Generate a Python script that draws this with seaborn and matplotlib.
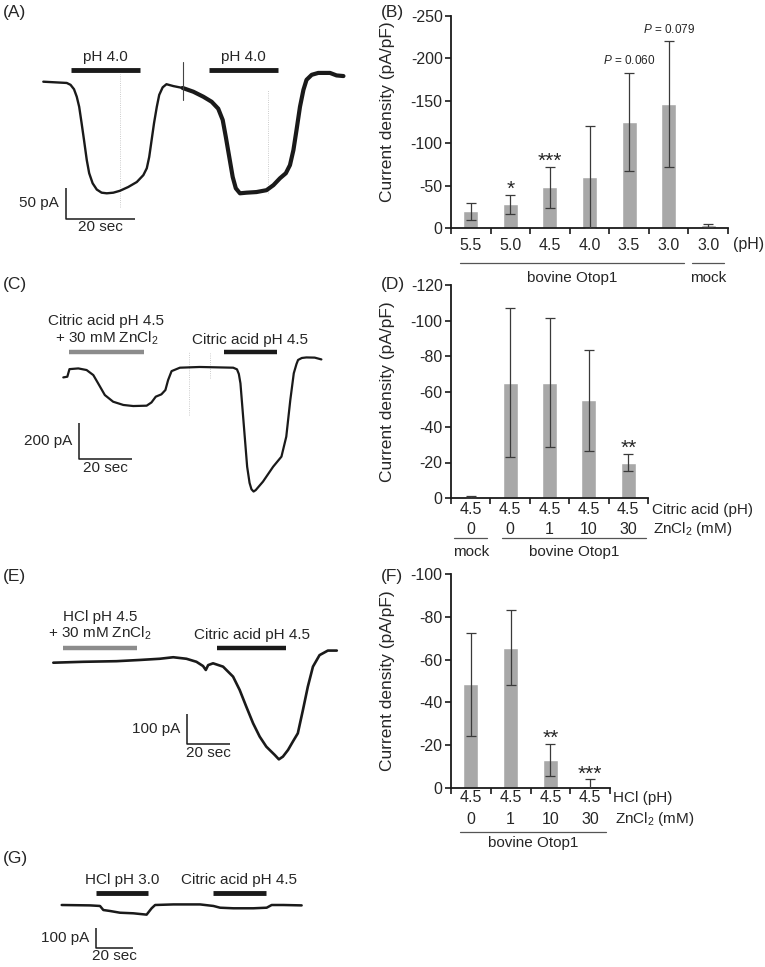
import numpy as np
import pandas as pd
import seaborn as sns
import matplotlib.pyplot as plt
import matplotlib.transforms as mtransforms

sns.set_theme(style='white')
plt.rcParams['font.family'] = ['Liberation Sans', 'DejaVu Sans']
plt.rcParams['mathtext.fontset'] = 'custom'
plt.rcParams['mathtext.rm'] = 'Liberation Sans'
plt.rcParams['mathtext.it'] = 'Liberation Sans:italic'
plt.rcParams['axes.unicode_minus'] = False

# ---------------- data ----------------
# (A) trace, time in sec, current in pA
a_time = [0, 6.8, 7.9, 8.9, 9.7, 10.4, 11.1, 11.8, 12.6, 13.3, 14.3, 15.5, 16.9, 18.4,
          20.3, 22.2, 24.6, 27.1, 29.0, 30.0, 30.7, 31.4, 32.1, 32.9, 33.6, 34.6, 35.7,
          37.7, 40.4,
          43.5, 46.4, 48.8, 50.7, 52.0, 52.9, 53.9, 54.9, 55.8, 57.0, 58.9, 61.8, 64.7,
          66.7, 68.6, 70.3, 71.5, 72.5, 73.4, 74.4, 75.4, 76.3, 77.8, 79.7, 83.1, 85.0, 87.0]
a_curr = [0, -2, -5, -12, -24, -40, -66, -93, -125, -146, -162, -172, -177, -178,
          -177, -174, -168, -160, -149, -138, -120, -93, -66, -40, -21, -9, -4,
          -7, -10,
          -16, -24, -32, -43, -61, -88, -120, -152, -170, -178, -177, -176, -173,
          -165, -154, -146, -133, -109, -77, -40, -13, 3, 11, 14, 14, 10, 9]
a_split = 28          # recording gets noisier after the artefact
a_spike_t = [40.6, 40.6]
a_spike_i = [32, -29]
a_pulses = [(8, 28, 'pH 4.0'), (48, 68, 'pH 4.0')]

# (C) trace
c_time = [0, 1.5, 2.3, 5.6, 8.7, 11.2, 13.0, 15.5, 18.6, 22.4, 26.1, 31.1, 32.9, 34.5,
          36.6, 38.1, 39.1, 40.4, 43.5, 50.9, 63.4, 64.8, 65.5, 66.1, 67.3, 68.6, 69.5,
          70.2, 71.0, 71.8, 74.5, 78.3, 81.4, 83.2, 84.7, 86.0, 87.0, 87.6, 89.0, 90.7,
          93.8, 96.3]
c_curr = [-54, -50, -8, -4, -13, -41, -87, -152, -189, -207, -213, -211, -193, -161,
          -148, -124, -69, -19, 0, 4, 0, -9, -35, -87, -309, -550, -640,
          -675, -688, -680, -633, -550, -494, -383, -180, -31, 20, 43, 54, 57,
          56, 46]

# (E) trace
e_time = [0, 14.1, 29.7, 40.6, 50.0, 56.3, 62.5, 67.2, 70.3, 71.6, 72.7, 75.0, 79.7,
          84.4, 87.5, 90.6, 93.8, 96.9, 100.0, 102.3, 103.9, 105.9, 107.8, 110.2, 112.5,
          114.8, 117.2, 119.5, 121.9, 125.0, 128.9, 133.1]
e_curr = [0, 3, 5, 9, 13, 18, 13, 3, -11, -24, -8, -2, -13,
          -46, -90, -145, -200, -244, -277, -293, -304, -319, -310, -288, -260,
          -233, -156, -79, -13, 25, 40, 40]

# (G) trace
g_time = [0, 15.3, 20.7, 22.5, 26.1, 31.5, 38.7, 45.9, 48.6, 50.5, 60.4, 74.8, 82.0,
          85.6, 92.8, 103.6, 110.8, 113.5, 119.8, 129.7]
g_curr = [0, -2, -5, -26, -31, -40, -43, -50, -17, 0, 3, 3, -5,
          -14, -17, -17, -14, 0, 0, -2]

# (B) pH dependence
b_cond = ['Otop1 5.5', 'Otop1 5.0', 'Otop1 4.5', 'Otop1 4.0', 'Otop1 3.5', 'Otop1 3.0', 'mock 3.0']
b_ph = ['5.5', '5.0', '4.5', '4.0', '3.5', '3.0', '3.0']
b_mean = [-20, -28, -48, -60, -125, -146, -3]
b_sd = [10, 11.5, 24, 60.5, 58, 74, 2]
b_marks = {1: '*', 2: '***'}
b_pvals = {4: 0.060, 5: 0.079}

# (D) citric acid + ZnCl2
d_cond = ['mock', 'Zn 0', 'Zn 1', 'Zn 10', 'Zn 30']
d_ph = ['4.5', '4.5', '4.5', '4.5', '4.5']
d_zn = ['0', '0', '1', '10', '30']
d_mean = [-0.5, -65, -65, -55, -20]
d_sd = [0.5, 42, 36.5, 28.5, 5]
d_marks = {4: '**'}

# (F) HCl + ZnCl2
f_cond = ['Zn 0', 'Zn 1', 'Zn 10', 'Zn 30']
f_ph = ['4.5', '4.5', '4.5', '4.5']
f_zn = ['0', '1', '10', '30']
f_mean = [-48.5, -65.5, -13, -1]
f_sd = [24, 17.5, 7.5, 3]
f_marks = {2: '**', 3: '***'}

# ---------------- figure ----------------
W, H = 765, 967
fig = plt.figure(figsize=(W / 100, H / 100), dpi=100)
FS = 11
TICK = 11.5
BAR = '#a8a8a8'
ZN = 'ZnCl$_2$ (mM)'


def fy(py):
    return 1 - py / H


def trace_ax(box, origin, sx, sy):
    # box: left, top, width, height in px; origin: px of (t=0, I=0); sx px/sec, sy px/pA
    left, top, w, h = box
    ax = fig.add_axes([left / W, 1 - (top + h) / H, w / W, h / H])
    ax.set_xlim((left - origin[0]) / sx, (left + w - origin[0]) / sx)
    ax.set_ylim((origin[1] - top - h) / sy, (origin[1] - top) / sy)
    ax.axis('off')
    return ax


def pulses(ax, items, level, lw=3.2):
    for t0, t1, color, label in items:
        ax.plot([t0, t1], [level, level], color=color, lw=lw, solid_capstyle='butt')
        if label:
            ax.annotate(label, ((t0 + t1) / 2, level), xytext=(0, 4), textcoords='offset points',
                        ha='center', va='bottom', fontsize=FS, linespacing=1.1)


def scalebar(ax, t0, i0, pa, pa_label):
    ax.plot([t0, t0, t0 + 20], [i0 + pa, i0, i0], color='k', lw=1.1, solid_capstyle='butt')
    ax.annotate(pa_label, (t0, i0 + pa / 2), xytext=(-5, 0), textcoords='offset points',
                ha='right', va='center', fontsize=FS)
    ax.annotate('20 sec', (t0 + 10, i0), xytext=(0, -1), textcoords='offset points',
                ha='center', va='top', fontsize=FS)


def bar_panel(rect, cond, mean, sd, ymax, ystep, marks, label_y=0.5):
    left, top, right, bottom = rect
    ax = fig.add_axes([left / W, fy(bottom), (right - left) / W, (bottom - top) / H])
    df = pd.DataFrame({'cond': cond, 'mean': mean})
    sns.barplot(data=df, x='cond', y='mean', order=cond, color=BAR, saturation=1,
                width=0.38, errorbar=None, ax=ax)
    x = np.arange(len(cond))
    ax.errorbar(x, mean, yerr=sd, fmt='none', ecolor='#3a3a3a', elinewidth=0.9,
                capsize=3.5, capthick=0.9, zorder=3)
    n = len(cond)
    ax.set_xlim(-0.5, n - 0.5)
    ax.set_ylim(0, -ymax)
    ax.set_yticks(np.arange(0, -ymax - 1, -ystep))
    ax.set_xticks(np.arange(-0.5, n, 1))
    ax.set_xticklabels([])
    ax.set_xlabel('')
    ax.set_ylabel('Current density (pA/pF)', fontsize=12.5)
    ax.yaxis.set_label_coords(-56 / (right - left), label_y)
    sns.despine(ax=ax)
    for s in ['left', 'bottom']:
        ax.spines[s].set_color('k')
        ax.spines[s].set_linewidth(1.3)
    ax.tick_params(axis='both', direction='out', length=4, width=1.2, color='k',
                   labelsize=TICK, bottom=True, left=True, pad=2)
    for i, m in marks.items():
        ax.annotate(m, (i, mean[i] - sd[i]), xytext=(0, -3), textcoords='offset points',
                    ha='center', va='bottom', fontsize=15)
    return ax


def rows(ax, labels, py):
    tr = mtransforms.blended_transform_factory(ax.transData, fig.transFigure)
    for i, lab in enumerate(labels):
        ax.text(i, fy(py), lab, transform=tr, ha='center', va='center', fontsize=TICK)


def group(ax, x0, x1, name, py_line, py_text):
    tr = mtransforms.blended_transform_factory(ax.transData, fig.transFigure)
    ax.plot([x0, x1], [fy(py_line), fy(py_line)], transform=tr, color='#555555',
            lw=0.9, clip_on=False)
    ax.text((x0 + x1) / 2, fy(py_text), name, transform=tr, ha='center', va='center', fontsize=FS)


# ---- (A)
ax = trace_ax((0, 20, 365, 225), (43.3, 81.7), 3.45, 0.627)
for t, lo, hi in [(22.2, -200, 13), (65.2, -178, -13)]:
    ax.plot([t, t], [lo, hi], color='#bbbbbb', lw=0.6, ls=':')
ax.plot(a_time[:a_split + 1], a_curr[:a_split + 1], color='k', lw=1.7)
ax.plot(a_time[a_split:], a_curr[a_split:], color='k', lw=3.0)
ax.plot(a_spike_t, a_spike_i, color='#444444', lw=0.8)
pulses(ax, [(t0, t1, 'k', lab) for t0, t1, lab in a_pulses], 19, lw=3.5)
scalebar(ax, 6.5, -219, 50, '50 pA')

# ---- (C)
ax = trace_ax((0, 300, 365, 225), (63.3, 367.7), 2.68, 0.18)
for t, lo, hi in [(46.8, -263, 89), (54.9, -59, 80)]:
    ax.plot([t, t], [lo, hi], color='#bbbbbb', lw=0.6, ls=':')
ax.plot(c_time, c_curr, color='k', lw=1.6)
pulses(ax, [(2.1, 30.1, '#8c8c8c', 'Citric acid pH 4.5\n+ 30 mM ZnCl$_2$'),
            (59.9, 79.8, 'k', 'Citric acid pH 4.5')], 85, lw=3.2)
scalebar(ax, 5.8, -509, 200, '200 pA')

# ---- (E)
ax = trace_ax((0, 585, 365, 200), (53.3, 662.7), 2.13, 0.303)
ax.plot(e_time, e_curr, color='k', lw=1.9)
pulses(ax, [(4.4, 39.5, '#8c8c8c', 'HCl pH 4.5\n+ 30 mM ZnCl$_2$'),
            (76.9, 109.4, 'k', 'Citric acid pH 4.5')], 49, lw=3.2)
scalebar(ax, 62.8, -269, 100, '100 pA')

# ---- (G)
ax = trace_ax((0, 860, 365, 107), (61.7, 905), 1.85, 0.193)
ax.plot(g_time, g_curr, color='k', lw=1.8)
pulses(ax, [(18.4, 46.8, 'k', 'HCl pH 3.0'), (81.6, 110.5, 'k', 'Citric acid pH 4.5')], 64, lw=3.5)
scalebar(ax, 18.4, -221, 100, '100 pA')

# ---- (B)
ax = bar_panel((451, 16, 728, 228), b_cond, b_mean, b_sd, 250, 50, b_marks, label_y=0.55)
for i, p in b_pvals.items():
    ax.annotate('$\\mathit{P}$ = %.3f' % p, (i, b_mean[i] - b_sd[i]), xytext=(0, 4),
                textcoords='offset points', ha='center', va='bottom', fontsize=8.5)
rows(ax, b_ph, 245)
group(ax, -0.28, 5.4, 'bovine Otop1', 263, 278)
group(ax, 5.6, 6.4, 'mock', 263, 278)
fig.text(733 / W, fy(245), '(pH)', ha='left', va='center', fontsize=TICK)

# ---- (D)
ax = bar_panel((451, 285, 648, 498), d_cond, d_mean, d_sd, 120, 20, d_marks)
rows(ax, d_ph, 510)
rows(ax, d_zn, 529)
group(ax, -0.42, 0.42, 'mock', 538, 552)
group(ax, 0.79, 4.45, 'bovine Otop1', 538, 552)
fig.text(652 / W, fy(510), 'Citric acid (pH)', ha='left', va='center', fontsize=FS)
fig.text(653 / W, fy(529), ZN, ha='left', va='center', fontsize=FS)

# ---- (F)
ax = bar_panel((451, 574, 610, 788), f_cond, f_mean, f_sd, 100, 20, f_marks)
rows(ax, f_ph, 798)
rows(ax, f_zn, 819)
group(ax, -0.27, 3.4, 'bovine Otop1', 832, 843)
fig.text(613 / W, fy(798), 'HCl (pH)', ha='left', va='center', fontsize=FS)
fig.text(615 / W, fy(819), ZN, ha='left', va='center', fontsize=FS)

# panel letters
for lab, px, py in [('(A)', 3, 13), ('(B)', 381, 13), ('(C)', 3, 284), ('(D)', 381, 284),
                    ('(E)', 3, 576), ('(F)', 381, 576), ('(G)', 3, 859)]:
    fig.text(px / W, fy(py), lab, ha='left', va='center', fontsize=12.5)

fig.savefig('out.png', dpi=100)
